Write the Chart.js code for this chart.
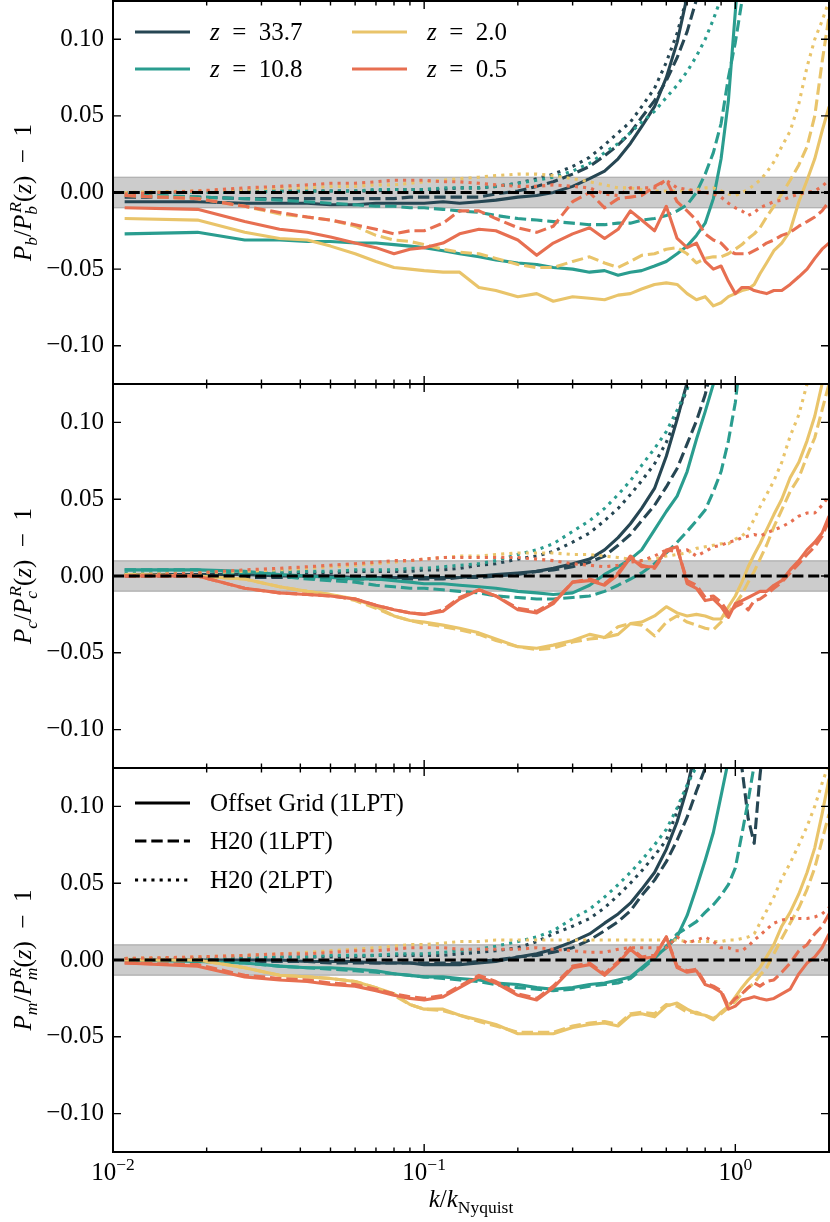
<!DOCTYPE html>
<html>
<head>
<meta charset="utf-8">
<script src="https://cdn.jsdelivr.net/npm/chart.js@4.4.1/dist/chart.umd.min.js"></script>
<style>
  html, body { margin: 0; padding: 0; background: #fff; }
  #wrap { position: relative; width: 830px; height: 1222px; overflow: hidden; }
  #wrap canvas { position: absolute; left: 0; }
</style>
</head>
<body>
<div id="wrap">
  <canvas id="panelM" width="830" height="484" style="top:738px"></canvas>
  <canvas id="panelC" width="830" height="444" style="top:354px"></canvas>
  <canvas id="panelB" width="830" height="443" style="top:-29px"></canvas>
</div>
<script>
// k / k_Nyquist
const K = [0.0109, 0.0187, 0.0265, 0.0343, 0.0421, 0.05, 0.06, 0.07, 0.08, 0.09,
  0.1, 0.115, 0.13, 0.15, 0.17, 0.2, 0.23, 0.26, 0.3, 0.34,
  0.38, 0.42, 0.46, 0.5, 0.55, 0.6, 0.65, 0.7, 0.75, 0.8,
  0.85, 0.9, 0.95, 1.0, 1.05, 1.1, 1.15, 1.2, 1.26, 1.33,
  1.41, 1.5, 1.6, 1.7, 1.8, 1.9, 2.0];

const Z_LABELS = ['33.7', '10.8', '2.0', '0.5'];
const STYLE_LABELS = ['Offset Grid (1LPT)', 'H20 (1LPT)', 'H20 (2LPT)'];
const Y_TICKS = [-0.1, -0.05, 0, 0.05, 0.1];
const X_MAJOR = [0.01, 0.1, 1];
const X_MAJOR_EXP = ['\u22122', '\u22121', '0'];
const X_MINOR = [0.02, 0.03, 0.04, 0.05, 0.06, 0.07, 0.08, 0.09, 0.2, 0.3, 0.4, 0.5, 0.6, 0.7, 0.8, 0.9, 2];

// baryons: s = Offset Grid (1LPT), d = H20 (1LPT), o = H20 (2LPT)
const b337s = [-0.006, -0.006, -0.007, -0.007, -0.007, -0.008, -0.008, -0.007, -0.007, -0.007,
  -0.007, -0.006, -0.007, -0.006, -0.005, -0.003, -0.002, 0.000, 0.004, 0.009,
  0.014, 0.022, 0.032, 0.043, 0.056, 0.075, 0.098, 0.128, 0.17];
const b337d = [-0.003, -0.003, -0.004, -0.004, -0.004, -0.004, -0.004, -0.004, -0.004, -0.003,
  -0.003, -0.003, -0.003, -0.003, -0.001, 0.001, 0.004, 0.007, 0.012, 0.017,
  0.024, 0.031, 0.039, 0.049, 0.060, 0.073, 0.088, 0.105, 0.126, 0.15];
const b337o = [0.000, 0.000, 0.001, 0.001, 0.001, 0.001, 0.001, 0.001, 0.002, 0.002,
  0.002, 0.002, 0.003, 0.003, 0.004, 0.006, 0.009, 0.012, 0.017, 0.023,
  0.031, 0.039, 0.046, 0.056, 0.068, 0.085, 0.104, 0.128, 0.16];
const b108s = [-0.027, -0.026, -0.031, -0.031, -0.032, -0.032, -0.033, -0.033, -0.034, -0.035,
  -0.036, -0.038, -0.040, -0.042, -0.044, -0.046, -0.047, -0.049, -0.050, -0.052,
  -0.051, -0.054, -0.052, -0.051, -0.048, -0.045, -0.040, -0.035, -0.028, -0.020,
  -0.004, 0.022, 0.060, 0.118, 0.17];
const b108d = [-0.001, -0.003, -0.004, -0.005, -0.006, -0.007, -0.008, -0.009, -0.009, -0.010,
  -0.010, -0.011, -0.012, -0.013, -0.015, -0.017, -0.018, -0.019, -0.020, -0.021,
  -0.021, -0.020, -0.020, -0.018, -0.017, -0.015, -0.012, -0.008, 0.000, 0.012,
  0.026, 0.045, 0.075, 0.098, 0.125, 0.16];
const b108o = [0.000, 0.000, 0.000, 0.001, 0.001, 0.001, 0.001, 0.002, 0.002, 0.002,
  0.002, 0.003, 0.003, 0.003, 0.004, 0.006, 0.008, 0.010, 0.014, 0.019,
  0.026, 0.032, 0.039, 0.046, 0.053, 0.062, 0.070, 0.079, 0.089, 0.100,
  0.113, 0.127, 0.145];
const b20s = [-0.017, -0.018, -0.026, -0.030, -0.031, -0.035, -0.040, -0.045, -0.049, -0.050,
  -0.051, -0.052, -0.052, -0.062, -0.064, -0.068, -0.066, -0.071, -0.068, -0.069,
  -0.070, -0.067, -0.066, -0.063, -0.060, -0.059, -0.060, -0.066, -0.070, -0.068,
  -0.074, -0.072, -0.068, -0.066, -0.064, -0.063, -0.060, -0.053, -0.046, -0.038,
  -0.033, -0.025, -0.006, 0.008, 0.022, 0.040, 0.056];
const b20d = [-0.002, -0.004, -0.009, -0.014, -0.016, -0.018, -0.022, -0.028, -0.031, -0.032,
  -0.034, -0.037, -0.039, -0.040, -0.043, -0.047, -0.049, -0.049, -0.045, -0.042,
  -0.046, -0.049, -0.045, -0.041, -0.040, -0.037, -0.036, -0.040, -0.046, -0.043,
  -0.042, -0.042, -0.040, -0.037, -0.034, -0.030, -0.027, -0.023, -0.016, -0.009,
  -0.001, 0.008, 0.018, 0.030, 0.050, 0.085, 0.115];
const b20o = [0.000, 0.001, 0.002, 0.003, 0.003, 0.004, 0.004, 0.005, 0.005, 0.006,
  0.007, 0.008, 0.009, 0.010, 0.011, 0.012, 0.012, 0.011, 0.009, 0.007,
  0.005, 0.003, 0.003, 0.002, 0.001, 0.001, 0.001, 0.001, 0.002, 0.003,
  0.003, 0.001, -0.001, -0.002, 0.000, 0.002, 0.005, 0.008, 0.013, 0.020,
  0.030, 0.040, 0.058, 0.082, 0.100, 0.112, 0.125];
const b05s = [-0.010, -0.011, -0.019, -0.024, -0.026, -0.029, -0.033, -0.036, -0.040, -0.037,
  -0.036, -0.033, -0.027, -0.024, -0.025, -0.031, -0.041, -0.033, -0.027, -0.023,
  -0.030, -0.024, -0.012, -0.018, -0.025, -0.009, -0.030, -0.036, -0.033, -0.045,
  -0.050, -0.048, -0.058, -0.066, -0.062, -0.062, -0.064, -0.065, -0.066, -0.064,
  -0.064, -0.060, -0.055, -0.050, -0.043, -0.037, -0.033];
const b05d = [-0.002, -0.004, -0.009, -0.013, -0.016, -0.018, -0.021, -0.024, -0.027, -0.025,
  -0.025, -0.020, -0.012, -0.012, -0.017, -0.023, -0.026, -0.022, -0.006, 0.000,
  -0.010, -0.004, -0.003, -0.002, 0.004, 0.008, -0.006, -0.012, -0.018, -0.027,
  -0.031, -0.033, -0.038, -0.040, -0.040, -0.040, -0.038, -0.036, -0.033, -0.031,
  -0.028, -0.026, -0.022, -0.019, -0.016, -0.012, -0.006];
const b05o = [-0.001, 0.001, 0.003, 0.004, 0.005, 0.006, 0.006, 0.007, 0.008, 0.008,
  0.008, 0.007, 0.007, 0.006, 0.005, 0.004, 0.004, 0.005, 0.004, 0.003,
  -0.001, -0.002, 0.003, 0.003, 0.003, 0.008, 0.003, 0.002, 0.001, 0.000,
  -0.001, -0.003, -0.007, -0.010, -0.012, -0.015, -0.013, -0.010, -0.008, -0.006,
  -0.005, -0.003, -0.001, 0.000, 0.001, 0.004, 0.008];

// cold dark matter
const c337s = [0.001, 0.001, 0.001, 0.000, 0.000, 0.000, -0.001, -0.001, -0.001, -0.001,
  -0.001, -0.001, -0.001, 0.000, 0.001, 0.002, 0.003, 0.005, 0.008, 0.011,
  0.017, 0.025, 0.034, 0.044, 0.057, 0.078, 0.102, 0.126, 0.17];
const c337d = [0.000, 0.000, -0.001, -0.001, -0.001, -0.002, -0.002, -0.002, -0.002, -0.002,
  -0.002, -0.002, -0.001, -0.001, 0.000, 0.001, 0.003, 0.004, 0.006, 0.009,
  0.013, 0.020, 0.027, 0.036, 0.046, 0.058, 0.070, 0.086, 0.101, 0.118,
  0.14];
const c337o = [0.001, 0.001, 0.002, 0.002, 0.002, 0.002, 0.003, 0.003, 0.003, 0.003,
  0.004, 0.004, 0.005, 0.007, 0.008, 0.011, 0.013, 0.016, 0.022, 0.028,
  0.036, 0.044, 0.053, 0.062, 0.073, 0.087, 0.104, 0.122, 0.14];
const c108s = [0.004, 0.004, 0.003, 0.001, 0.000, -0.001, -0.002, -0.002, -0.003, -0.004,
  -0.005, -0.005, -0.006, -0.007, -0.008, -0.010, -0.011, -0.012, -0.011, -0.006,
  0.001, 0.006, 0.011, 0.017, 0.030, 0.042, 0.052, 0.068, 0.089, 0.107,
  0.125, 0.15];
const c108d = [0.004, 0.004, 0.001, 0.000, -0.002, -0.003, -0.004, -0.006, -0.007, -0.008,
  -0.008, -0.009, -0.010, -0.011, -0.013, -0.014, -0.015, -0.015, -0.014, -0.013,
  -0.010, -0.006, -0.002, 0.002, 0.008, 0.015, 0.022, 0.029, 0.036, 0.043,
  0.055, 0.068, 0.088, 0.113, 0.15];
const c108o = [0.002, 0.002, 0.002, 0.003, 0.003, 0.003, 0.004, 0.004, 0.004, 0.005,
  0.005, 0.006, 0.007, 0.008, 0.010, 0.014, 0.017, 0.021, 0.029, 0.036,
  0.044, 0.053, 0.062, 0.072, 0.083, 0.094, 0.108, 0.122, 0.14];
const c20s = [0.001, 0.000, -0.002, -0.007, -0.010, -0.012, -0.015, -0.020, -0.026, -0.029,
  -0.030, -0.032, -0.034, -0.037, -0.041, -0.046, -0.047, -0.045, -0.042, -0.038,
  -0.040, -0.038, -0.031, -0.030, -0.026, -0.020, -0.024, -0.026, -0.025, -0.026,
  -0.028, -0.028, -0.020, -0.013, -0.004, 0.006, 0.014, 0.021, 0.030, 0.040,
  0.050, 0.064, 0.074, 0.088, 0.104, 0.125, 0.15];
const c20d = [0.001, 0.000, -0.002, -0.007, -0.010, -0.012, -0.016, -0.021, -0.026, -0.029,
  -0.031, -0.033, -0.035, -0.038, -0.042, -0.046, -0.048, -0.047, -0.043, -0.041,
  -0.040, -0.033, -0.031, -0.032, -0.039, -0.030, -0.026, -0.030, -0.032, -0.034,
  -0.035, -0.030, -0.024, -0.018, -0.012, -0.004, 0.003, 0.011, 0.020, 0.032,
  0.043, 0.055, 0.064, 0.078, 0.090, 0.108, 0.125];
const c20o = [0.001, 0.002, 0.003, 0.004, 0.005, 0.006, 0.007, 0.008, 0.009, 0.010,
  0.011, 0.012, 0.013, 0.013, 0.014, 0.015, 0.015, 0.015, 0.014, 0.014,
  0.013, 0.012, 0.011, 0.010, 0.011, 0.013, 0.014, 0.015, 0.018, 0.019,
  0.020, 0.021, 0.021, 0.024, 0.026, 0.030, 0.037, 0.045, 0.053, 0.062,
  0.074, 0.091, 0.105, 0.125, 0.145];
const c05s = [0.000, 0.000, -0.008, -0.011, -0.012, -0.013, -0.015, -0.019, -0.022, -0.024,
  -0.025, -0.023, -0.015, -0.009, -0.013, -0.022, -0.024, -0.018, -0.004, -0.003,
  -0.006, 0.001, 0.012, 0.006, 0.006, 0.017, 0.019, -0.005, -0.008, -0.016,
  -0.015, -0.020, -0.027, -0.018, -0.016, -0.014, -0.012, -0.010, -0.010, -0.006,
  -0.003, 0.004, 0.010, 0.017, 0.022, 0.028, 0.039];
const c05d = [0.000, 0.000, -0.008, -0.011, -0.012, -0.013, -0.015, -0.019, -0.022, -0.024,
  -0.025, -0.022, -0.014, -0.009, -0.013, -0.021, -0.023, -0.017, -0.004, -0.002,
  -0.005, 0.002, 0.013, 0.007, 0.005, 0.016, 0.018, -0.003, -0.006, -0.014,
  -0.013, -0.017, -0.024, -0.020, -0.018, -0.022, -0.016, -0.015, -0.012, -0.008,
  -0.004, 0.002, 0.008, 0.014, 0.019, 0.026, 0.036];
const c05o = [0.000, 0.002, 0.004, 0.005, 0.006, 0.007, 0.008, 0.009, 0.010, 0.010,
  0.011, 0.012, 0.012, 0.012, 0.012, 0.012, 0.011, 0.010, 0.008, 0.007,
  0.006, 0.007, 0.009, 0.010, 0.013, 0.017, 0.016, 0.017, 0.013, 0.016,
  0.019, 0.020, 0.022, 0.023, 0.025, 0.026, 0.027, 0.026, 0.028, 0.030,
  0.032, 0.035, 0.039, 0.041, 0.041, 0.046, 0.052];

// total matter
const m337s = [0.000, 0.000, 0.000, 0.000, -0.001, -0.001, -0.001, -0.002, -0.002, -0.002,
  -0.003, -0.003, -0.003, -0.002, -0.001, 0.002, 0.004, 0.007, 0.012, 0.017,
  0.024, 0.030, 0.037, 0.046, 0.057, 0.072, 0.090, 0.112, 0.14];
const m337d = [0.000, 0.000, -0.001, -0.001, -0.001, -0.002, -0.002, -0.002, -0.002, -0.002,
  -0.002, -0.002, -0.002, -0.001, 0.000, 0.002, 0.003, 0.005, 0.008, 0.013,
  0.019, 0.025, 0.032, 0.042, 0.052, 0.064, 0.078, 0.093, 0.110, 0.125,
  0.16, 0.2, 0.25, 0.2, 0.125, 0.092, 0.076, 0.12, 0.16];
const m337o = [0.001, 0.001, 0.001, 0.002, 0.002, 0.002, 0.002, 0.003, 0.003, 0.003,
  0.003, 0.003, 0.004, 0.005, 0.006, 0.008, 0.012, 0.017, 0.022, 0.027,
  0.034, 0.042, 0.050, 0.058, 0.068, 0.078, 0.097, 0.113, 0.13];
const m108s = [0.000, -0.001, -0.002, -0.004, -0.005, -0.005, -0.006, -0.007, -0.009, -0.010,
  -0.011, -0.011, -0.012, -0.013, -0.015, -0.016, -0.018, -0.019, -0.018, -0.016,
  -0.015, -0.013, -0.011, -0.005, 0.002, 0.008, 0.015, 0.029, 0.047, 0.065,
  0.083, 0.107, 0.13];
const m108d = [0.000, -0.001, -0.002, -0.004, -0.005, -0.006, -0.007, -0.008, -0.009, -0.010,
  -0.011, -0.012, -0.013, -0.014, -0.016, -0.018, -0.019, -0.020, -0.019, -0.017,
  -0.016, -0.015, -0.012, -0.006, 0.001, 0.009, 0.017, 0.021, 0.025, 0.031,
  0.036, 0.042, 0.049, 0.060, 0.082, 0.104, 0.127, 0.16];
const m108o = [0.001, 0.001, 0.002, 0.002, 0.002, 0.003, 0.003, 0.003, 0.004, 0.004,
  0.004, 0.005, 0.006, 0.007, 0.009, 0.012, 0.015, 0.019, 0.027, 0.033,
  0.041, 0.049, 0.057, 0.065, 0.075, 0.085, 0.099, 0.114, 0.126, 0.14];
const m20s = [0.000, 0.000, -0.005, -0.010, -0.011, -0.012, -0.014, -0.018, -0.022, -0.029,
  -0.032, -0.032, -0.036, -0.039, -0.042, -0.048, -0.048, -0.048, -0.044, -0.042,
  -0.041, -0.043, -0.036, -0.035, -0.037, -0.030, -0.028, -0.032, -0.035, -0.036,
  -0.039, -0.034, -0.030, -0.024, -0.018, -0.013, -0.009, -0.005, 0.002, 0.010,
  0.022, 0.031, 0.043, 0.057, 0.073, 0.095, 0.118];
const m20d = [0.000, 0.000, -0.005, -0.010, -0.011, -0.012, -0.014, -0.018, -0.023, -0.029,
  -0.032, -0.033, -0.036, -0.040, -0.043, -0.047, -0.047, -0.047, -0.043, -0.041,
  -0.040, -0.042, -0.035, -0.034, -0.035, -0.029, -0.030, -0.034, -0.034, -0.036,
  -0.038, -0.035, -0.031, -0.027, -0.022, -0.018, -0.015, -0.010, -0.005, 0.004,
  0.014, 0.024, 0.034, 0.046, 0.060, 0.078, 0.095];
const m20o = [0.001, 0.002, 0.003, 0.004, 0.005, 0.006, 0.007, 0.008, 0.009, 0.010,
  0.010, 0.011, 0.012, 0.012, 0.013, 0.013, 0.013, 0.013, 0.013, 0.013,
  0.013, 0.013, 0.013, 0.013, 0.013, 0.013, 0.013, 0.012, 0.012, 0.012,
  0.012, 0.012, 0.013, 0.013, 0.014, 0.015, 0.017, 0.024, 0.032, 0.041,
  0.053, 0.063, 0.075, 0.087, 0.100, 0.115, 0.128];
const m05s = [-0.002, -0.004, -0.011, -0.013, -0.014, -0.016, -0.017, -0.020, -0.023, -0.025,
  -0.026, -0.024, -0.018, -0.011, -0.015, -0.023, -0.026, -0.018, -0.005, -0.003,
  -0.010, -0.002, 0.007, 0.001, 0.002, 0.015, -0.005, -0.008, -0.007, -0.016,
  -0.018, -0.021, -0.032, -0.030, -0.026, -0.025, -0.024, -0.025, -0.026, -0.025,
  -0.022, -0.019, -0.009, -0.002, 0.002, 0.008, 0.017];
const m05d = [-0.002, -0.003, -0.010, -0.012, -0.013, -0.015, -0.016, -0.019, -0.022, -0.024,
  -0.025, -0.023, -0.017, -0.010, -0.014, -0.022, -0.025, -0.017, -0.004, -0.002,
  -0.009, -0.001, 0.008, 0.002, 0.003, 0.015, -0.004, -0.007, -0.006, -0.015,
  -0.017, -0.020, -0.030, -0.025, -0.022, -0.018, -0.015, -0.017, -0.014, -0.013,
  -0.008, -0.002, 0.006, 0.010, 0.017, 0.022, 0.030];
const m05o = [0.001, 0.002, 0.003, 0.004, 0.004, 0.005, 0.006, 0.006, 0.007, 0.008,
  0.008, 0.008, 0.007, 0.007, 0.007, 0.007, 0.008, 0.007, 0.006, 0.005,
  0.005, 0.007, 0.008, 0.008, 0.008, 0.008, 0.015, 0.011, 0.013, 0.015,
  0.012, 0.008, 0.008, 0.006, 0.006, 0.009, 0.013, 0.016, 0.020, 0.024,
  0.026, 0.027, 0.027, 0.027, 0.028, 0.030, 0.034];

// estilo
const SERIF = "'Liberation Serif', 'Times New Roman', serif";
const FS = 25;
const Y_LIM = 0.125;
const BAND = 0.01;
const LW = 3.1;
const Z_COLORS = ['#264653', '#2a9d8f', '#e9c46a', '#e76f51'];
const DASHES = [[], [11.4, 4.9], [3.1, 5.1]];

Chart.defaults.font.family = SERIF;
Chart.defaults.font.size = FS;
Chart.defaults.color = '#000';

// texto tipo formula: parts {t, it, s (escala), dy (em), dx (em), hold}
function drawRich(ctx, parts, size, x0, y0, align) {
  let x = 0, hold = 0;
  const items = parts.map(p => {
    const fs = size * (p.s || 1);
    const font = (p.it ? 'italic ' : '') + fs + 'px ' + SERIF;
    ctx.font = font;
    const w = ctx.measureText(p.t).width;
    const item = { t: p.t, font, x: x + (p.dx || 0) * size, dy: (p.dy || 0) * size };
    if (p.hold) hold = w + (p.dx || 0) * size;
    else { x += Math.max(w, hold); hold = 0; }
    return item;
  });
  const start = align === 'center' ? x0 - x / 2 : x0;
  ctx.textAlign = 'left';
  ctx.textBaseline = 'alphabetic';
  items.forEach(it => { ctx.font = it.font; ctx.fillText(it.t, start + it.x, y0 + it.dy); });
}

function yTitle(sub) {
  return [
    { t: 'P', it: 1 }, { t: sub, it: 1, s: 0.7, dy: 0.22 }, { t: '/' }, { t: 'P', it: 1 },
    { t: 'R', it: 1, s: 0.7, dy: -0.42, dx: 0.08, hold: 1 }, { t: sub, it: 1, s: 0.7, dy: 0.22 },
    { t: '(' }, { t: 'z', it: 1 }, { t: ')' }, { t: '\u2002\u2212\u20021' }
  ];
}

function handle(ctx, x0, y0, color, dash) {
  ctx.save();
  ctx.strokeStyle = color; ctx.lineWidth = LW; ctx.setLineDash(dash);
  ctx.beginPath(); ctx.moveTo(x0, y0); ctx.lineTo(x0 + 55, y0); ctx.stroke();
  ctx.restore();
}

function legendZ(ctx, a) {
  Z_LABELS.forEach((lab, i) => {
    const x0 = [135, 352][Math.floor(i / 2)];
    const y0 = a.top + [31, 68][i % 2];
    handle(ctx, x0, y0, Z_COLORS[i], []);
    drawRich(ctx, [{ t: 'z', it: 1 }, { t: '\u2002=\u2002' + lab }], FS, x0 + 75, y0 + 8, 'left');
  });
}

function legendStyles(ctx, a) {
  STYLE_LABELS.forEach((lab, i) => {
    const y0 = a.top + [35, 73, 112][i];
    handle(ctx, 135, y0, '#000', DASHES[i]);
    drawRich(ctx, [{ t: lab }], FS, 210, y0 + 8, 'left');
  });
}

function framePlugin(opts) {
  return {
    id: 'frame',
    beforeDatasetsDraw(chart) {
      const { ctx, chartArea: a, scales: { y } } = chart;
      const top = y.getPixelForValue(BAND), bot = y.getPixelForValue(-BAND);
      ctx.save();
      ctx.fillStyle = 'rgba(128,128,128,0.4)';
      ctx.fillRect(a.left, top, a.right - a.left, bot - top);
      ctx.strokeStyle = 'rgba(128,128,128,0.4)';
      ctx.lineWidth = 1.5;
      ctx.beginPath();
      ctx.moveTo(a.left, top); ctx.lineTo(a.right, top);
      ctx.moveTo(a.left, bot); ctx.lineTo(a.right, bot);
      ctx.stroke();
      ctx.restore();
    },
    afterDatasetsDraw(chart) {
      const { ctx, chartArea: a, scales: { x, y } } = chart;
      ctx.save();
      // linea de referencia en cero
      const y0 = y.getPixelForValue(0);
      ctx.strokeStyle = '#000'; ctx.lineWidth = 3; ctx.setLineDash([11, 4.8]);
      ctx.beginPath(); ctx.moveTo(a.left, y0); ctx.lineTo(a.right, y0); ctx.stroke();
      ctx.setLineDash([]);
      // ticks hacia adentro en los cuatro lados
      ctx.lineWidth = 1.4;
      ctx.beginPath();
      const xTick = (v, len) => {
        const px = x.getPixelForValue(v);
        if (px < a.left - 0.5 || px > a.right - 1) return;
        ctx.moveTo(px, a.bottom); ctx.lineTo(px, a.bottom - len);
        ctx.moveTo(px, a.top); ctx.lineTo(px, a.top + len);
      };
      X_MAJOR.forEach(v => xTick(v, 8));
      X_MINOR.forEach(v => xTick(v, 4.5));
      Y_TICKS.forEach(v => {
        const py = y.getPixelForValue(v);
        ctx.moveTo(a.left, py); ctx.lineTo(a.left + 8, py);
        ctx.moveTo(a.right, py); ctx.lineTo(a.right - 8, py);
      });
      ctx.stroke();
      ctx.lineWidth = 2;
      ctx.strokeRect(a.left, a.top, a.right - a.left, a.bottom - a.top);
      // titulo del eje y
      ctx.fillStyle = '#000';
      ctx.save();
      ctx.translate(31, (a.top + a.bottom) / 2);
      ctx.rotate(-Math.PI / 2);
      drawRich(ctx, opts.title, FS, 0, 0, 'center');
      ctx.restore();
      if (opts.legend) opts.legend(ctx, a);
      if (opts.xAxis) {
        X_MAJOR.forEach((v, i) => {
          const px = x.getPixelForValue(v);
          drawRich(ctx, [{ t: '10' }, { t: X_MAJOR_EXP[i], s: 0.7, dy: -0.42 }], FS, px, a.bottom + 28, 'center');
        });
        drawRich(ctx, [{ t: 'k', it: 1 }, { t: '/' }, { t: 'k', it: 1 }, { t: 'Nyquist', s: 0.7, dy: 0.22 }],
          FS, (a.left + a.right) / 2, a.bottom + 55, 'center');
      }
      ctx.restore();
    }
  };
}

function buildDatasets(series) {
  const out = [];
  series.forEach((trio, zi) => trio.forEach((vals, si) => {
    out.push({
      data: vals.map((v, i) => ({ x: K[i], y: v })),
      borderColor: Z_COLORS[zi],
      borderWidth: LW,
      borderDash: DASHES[si],
      borderJoinStyle: 'round',
      pointRadius: 0,
      fill: false,
      tension: 0,
      order: 100 - out.length
    });
  }));
  return out;
}

function makePanel(id, series, opts, padBottom) {
  new Chart(document.getElementById(id), {
    type: 'line',
    data: { datasets: buildDatasets(series) },
    options: {
      responsive: false,
      animation: false,
      events: [],
      layout: { padding: { top: 30, bottom: padBottom, left: 0, right: 1 } },
      plugins: { legend: { display: false }, tooltip: { enabled: false } },
      scales: {
        x: { type: 'logarithmic', min: 0.01, max: 2, display: false },
        y: {
          type: 'linear', min: -Y_LIM, max: Y_LIM, position: 'left',
          afterBuildTicks: s => { s.ticks = Y_TICKS.map(v => ({ value: v })); },
          afterFit: s => { s.width = 113; },
          grid: { display: false, drawTicks: false },
          border: { display: false },
          ticks: {
            padding: 9, color: '#000', font: { size: FS, family: SERIF },
            callback: v => (v < -1e-9 ? '\u2212' : '') + Math.abs(v).toFixed(2)
          }
        }
      }
    },
    plugins: [framePlugin(opts)]
  });
}

makePanel('panelB', [[b337s, b337d, b337o], [b108s, b108d, b108o], [b20s, b20d, b20o], [b05s, b05d, b05o]],
  { title: yTitle('b'), legend: legendZ }, 30);
makePanel('panelC', [[c337s, c337d, c337o], [c108s, c108d, c108o], [c20s, c20d, c20o], [c05s, c05d, c05o]],
  { title: yTitle('c') }, 30);
makePanel('panelM', [[m337s, m337d, m337o], [m108s, m108d, m108o], [m20s, m20d, m20o], [m05s, m05d, m05o]],
  { title: yTitle('m'), legend: legendStyles, xAxis: true }, 70);
</script>
</body>
</html>
